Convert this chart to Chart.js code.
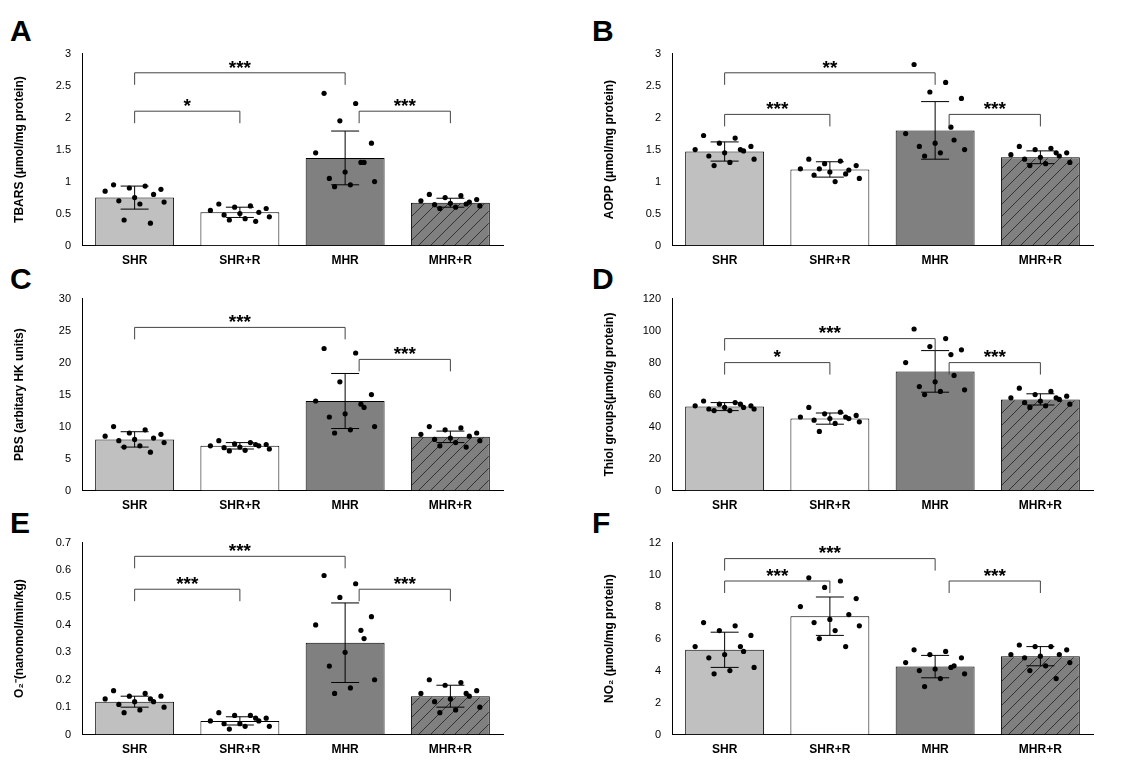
<!DOCTYPE html>
<html><head><meta charset="utf-8">
<script src="https://cdn.jsdelivr.net/npm/chart.js@4"></script>
<style>
body{margin:0;background:#fff;width:1130px;height:778px;position:relative;font-family:Arial,"Liberation Sans",sans-serif}
.w{position:absolute;width:500px;height:232px}
.l{position:absolute;font:bold 30px Arial,"Liberation Sans",sans-serif}
</style></head><body>
<div class="l" style="left:10px;top:14px">A</div><div class="l" style="left:592px;top:14px">B</div>
<div class="l" style="left:10px;top:262px">C</div><div class="l" style="left:592px;top:262px">D</div>
<div class="l" style="left:10px;top:506px">E</div><div class="l" style="left:592px;top:506px">F</div>
<div class="w" style="left:8px;top:44px"><canvas id="cA"></canvas></div>
<div class="w" style="left:598px;top:44px"><canvas id="cB"></canvas></div>
<div class="w" style="left:8px;top:289px"><canvas id="cC"></canvas></div>
<div class="w" style="left:598px;top:289px"><canvas id="cD"></canvas></div>
<div class="w" style="left:8px;top:533px"><canvas id="cE"></canvas></div>
<div class="w" style="left:598px;top:533px"><canvas id="cF"></canvas></div>
<script>
const groups = ['SHR', 'SHR+R', 'MHR', 'MHR+R'];

const meansA = [0.75, 0.52, 1.37, 0.67];
const sdA = [0.18, 0.08, 0.42, 0.07];
const pointsA = [
  [0.95,0.93,0.9,0.88,0.85,0.8,0.75,0.7,0.68,0.65,0.4,0.35],
  [0.65,0.62,0.6,0.58,0.55,0.52,0.5,0.48,0.45,0.42,0.4,0.38],
  [2.38,2.22,1.95,1.6,1.45,1.3,1.15,1.05,1.0,0.95,0.92,1.3],
  [0.8,0.78,0.75,0.72,0.7,0.68,0.66,0.64,0.62,0.6,0.58,0.65]];
const sigA = [[0,2,2.7,'***'],[0,1,2.1,'*'],[2,3,2.1,'***']];

const meansB = [1.47, 1.19, 1.8, 1.38];
const sdB = [0.15, 0.12, 0.45, 0.1];
const pointsB = [
  [1.72,1.68,1.6,1.55,1.5,1.48,1.45,1.4,1.35,1.3,1.25,1.5],
  [1.35,1.32,1.28,1.25,1.2,1.18,1.15,1.1,1.05,1.0,1.2,1.12],
  [2.83,2.55,2.4,2.3,1.75,1.65,1.6,1.55,1.5,1.45,1.4,1.85],
  [1.55,1.52,1.5,1.45,1.42,1.4,1.38,1.35,1.3,1.28,1.25,1.45]];
const sigB = [[0,2,2.7,'**'],[0,1,2.05,'***'],[2,3,2.05,'***']];

const meansC = [8, 7, 14, 8.4];
const sdC = [1.2, 0.5, 4.3, 0.9];
const pointsC = [
  [10,9.5,9,8.8,8.5,8.2,8,7.8,7.5,7,6.8,6],
  [7.8,7.5,7.3,7.2,7,7,6.8,6.7,6.5,6.3,6.2,7.2],
  [22.2,21.5,17,15,14,13,12,11.5,10,9.5,9,13.5],
  [10,9.8,9.5,9,8.8,8.5,8.2,8,7.8,7.5,7,6.8]];
const sigC = [[0,2,25.5,'***'],[2,3,20.5,'***']];

const meansD = [52.5, 45, 74.5, 57];
const sdD = [2.5, 3.5, 13, 3.5];
const pointsD = [
  [56,55,54,53,53,52,52,51,51,50,50,54],
  [52,49,48,47,46,45,45,44,43,42,37,46],
  [101,95,90,88,80,72,68,65,63,62,60,85],
  [64,62,60,59,58,57,56,55,54,53,52,58]];
const sigD = [[0,2,95,'***'],[0,1,80,'*'],[2,3,80,'***']];

const meansE = [0.12, 0.05, 0.335, 0.14];
const sdE = [0.02, 0.015, 0.145, 0.04];
const pointsE = [
  [.16,.15,.14,.14,.13,.12,.12,.11,.10,.09,.08,.13],
  [.08,.07,.07,.06,.05,.05,.04,.04,.03,.03,.02,.06],
  [.58,.55,.5,.43,.4,.35,.3,.25,.2,.17,.15,.38],
  [.2,.19,.18,.16,.15,.14,.13,.12,.1,.09,.08,.15]];
const sigE = [[0,2,0.65,'***'],[0,1,0.53,'***'],[2,3,0.53,'***']];

const meansF = [5.3, 7.4, 4.25, 4.9];
const sdF = [1.1, 1.2, 0.7, 0.6];
const pointsF = [
  [7,6.8,6.5,6.2,5.5,5.2,5,4.8,4.2,4,3.8,5.5],
  [9.8,9.6,9.2,8.5,8,7.5,7.2,7,6.8,6.5,6,5.5],
  [5.3,5.2,5,4.8,4.5,4.3,4.1,4,3.8,3.5,3,4.2],
  [5.6,5.5,5.5,5.3,5,5,4.9,4.8,4.5,4.3,4,3.5]];
const sigF = [[0,2,11,'***'],[0,1,9.6,'***'],[2,3,9.6,'***']];

// jitter offsets (fraction of category width) for the 12 dots per group
const jitter = [-0.2, 0.1, -0.05, 0.25, -0.28, 0.18, 0.0, -0.15, 0.28, 0.05, -0.1, 0.15];

// hatch fill for MHR+R
const pc = document.createElement('canvas');
pc.width = 12; pc.height = 12;
const pctx = pc.getContext('2d');
pctx.fillStyle = '#808080'; pctx.fillRect(0, 0, 12, 12);
pctx.strokeStyle = '#333'; pctx.lineWidth = 1;
pctx.beginPath(); pctx.moveTo(0, 12); pctx.lineTo(12, 0); pctx.moveTo(-6, 6); pctx.lineTo(6, -6); pctx.moveTo(6, 18); pctx.lineTo(18, 6); pctx.stroke();
const hatch = pctx.createPattern(pc, 'repeat');

const extras = {
  id: 'extras',
  afterDatasetsDraw(chart, args, opts) {
    const ctx = chart.ctx, x = chart.scales.x, y = chart.scales.y;
    const cw = x.getPixelForValue(1) - x.getPixelForValue(0);
    ctx.save();
    ctx.strokeStyle = '#000'; ctx.lineWidth = 1;
    opts.means.forEach((m, i) => {
      const px = x.getPixelForValue(i);
      const t = y.getPixelForValue(m + opts.sd[i]), b = y.getPixelForValue(m - opts.sd[i]);
      ctx.beginPath();
      ctx.moveTo(px, t); ctx.lineTo(px, b);
      ctx.moveTo(px - 14, t); ctx.lineTo(px + 14, t);
      ctx.moveTo(px - 14, b); ctx.lineTo(px + 14, b);
      ctx.stroke();
    });
    ctx.fillStyle = '#000';
    opts.points.forEach((arr, i) => {
      arr.forEach((v, k) => {
        ctx.beginPath();
        ctx.arc(x.getPixelForValue(i) + jitter[k] * cw, y.getPixelForValue(v), 2.6, 0, Math.PI * 2);
        ctx.fill();
      });
    });
    ctx.strokeStyle = '#444';
    ctx.font = 'bold 19px Arial';
    ctx.textAlign = 'center'; ctx.textBaseline = 'bottom';
    opts.sig.forEach(([a, b, v, lab]) => {
      const xa = x.getPixelForValue(a) + (a === 2 && b === 3 ? 14 : 0);
      const xb = x.getPixelForValue(b);
      const py = y.getPixelForValue(v);
      ctx.beginPath();
      ctx.moveTo(xa, py + 12); ctx.lineTo(xa, py); ctx.lineTo(xb, py); ctx.lineTo(xb, py + 12);
      ctx.stroke();
      ctx.fillText(lab, (xa + xb) / 2, py + 5);
    });
    ctx.restore();
  }
};

function makePanel(id, means, sd, points, sig, yMax, yStep, yTitle) {
  new Chart(document.getElementById(id), {
    type: 'bar',
    data: {
      labels: groups,
      datasets: [{
        data: means,
        backgroundColor: ['#c0c0c0', '#ffffff', '#808080', hatch],
        borderColor: '#000', borderWidth: 1,
        barPercentage: 0.75, categoryPercentage: 1
      }]
    },
    options: {
      responsive: true, maintainAspectRatio: false, animation: false,
      layout: { padding: { top: 8, right: 5 } },
      plugins: { legend: { display: false }, tooltip: { enabled: false }, extras: { means, sd, points, sig } },
      scales: {
        x: { grid: { display: false, drawTicks: false }, border: { color: '#000' },
             ticks: { color: '#000', font: { size: 12, weight: 'bold', family: 'Arial' }, padding: 8 } },
        y: { min: 0, max: yMax, grid: { display: false }, border: { color: '#000' },
             afterFit: s => { s.width = 74; },
             ticks: { stepSize: yStep, color: '#000', font: { size: 11, family: 'Arial' },
                      callback: v => String(Math.round(v * 100) / 100) },
             title: { display: true, text: yTitle, color: '#000', font: { size: 12, weight: 'bold', family: 'Arial' } } }
      }
    },
    plugins: [extras]
  });
}

makePanel('cA', meansA, sdA, pointsA, sigA, 3, 0.5, 'TBARS (μmol/mg protein)');
makePanel('cB', meansB, sdB, pointsB, sigB, 3, 0.5, 'AOPP (μmol/mg protein)');
makePanel('cC', meansC, sdC, pointsC, sigC, 30, 5, 'PBS (arbitary HK units)');
makePanel('cD', meansD, sdD, pointsD, sigD, 120, 20, 'Thiol groups(μmol/g protein)');
makePanel('cE', meansE, sdE, pointsE, sigE, 0.7, 0.1, 'O₂⁻(nanomol/min/kg)');
makePanel('cF', meansF, sdF, pointsF, sigF, 12, 2, 'NO₂ (μmol/mg protein)');
</script>
</body></html>
